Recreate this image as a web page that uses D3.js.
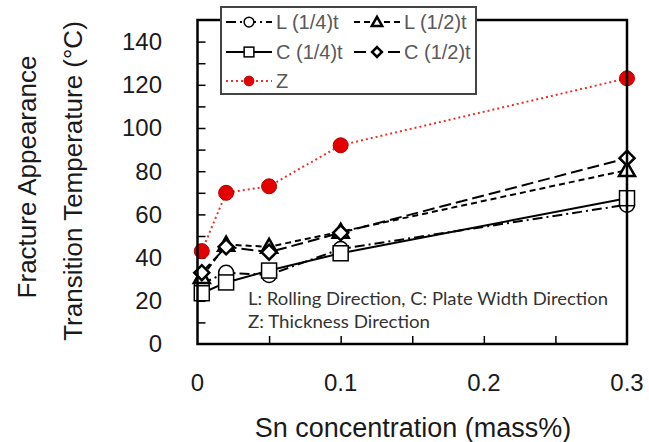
<!DOCTYPE html>
<html>
<head>
<meta charset="utf-8">
<script src="https://cdn.jsdelivr.net/npm/d3@7"></script>
<style>
  body { margin: 0; background: #fff; }
  svg { display: block; font-family: 'Liberation Sans', Arial, sans-serif; }
</style>
</head>
<body>
<svg id="chart" width="649" height="442"></svg>
<script>
// Sn concentration (mass%)
const snConc = [0.003, 0.02, 0.05, 0.1, 0.3];

// Fracture appearance transition temperature (°C)
const L14 = [28, 33, 32, 44, 64.5];
const L12 = [31, 46, 45, 52, 80.5];
const C14 = [23.5, 28.5, 34, 42, 67.5];
const C12 = [33, 45, 42.5, 51.5, 86];
const Z = [43, 70, 73, 92, 123];

const xTicks = [0, 0.1, 0.2, 0.3];
const yTicks = [0, 20, 40, 60, 80, 100, 120, 140];

const series = [
  { name: 'L (1/4)t', values: L14, marker: 'circle', dash: '10,4,2,4', color: '#000' },
  { name: 'L (1/2)t', values: L12, marker: 'triangle', dash: '6,4', color: '#000' },
  { name: 'C (1/4)t', values: C14, marker: 'square', dash: null, color: '#000' },
  { name: 'C (1/2)t', values: C12, marker: 'diamond', dash: '12,5', color: '#000' },
  { name: 'Z', values: Z, marker: 'dot', dash: '2,3', color: '#e8322a' }
];

const svg = d3.select('#chart');
const plotL = 197.5, plotR = 627, plotT = 20, plotB = 344;

const x = d3.scaleLinear().domain([0, 0.3]).range([plotL, plotR]);
const y = d3.scaleLinear().domain([0, 150]).range([plotB, plotT]);

// minor inside ticks
svg.append('g')
  .attr('transform', `translate(${plotL},0)`)
  .call(d3.axisRight(y).tickValues(d3.range(10, 150, 10)).tickSize(8).tickFormat(''))
  .call(g => g.select('.domain').remove())
  .selectAll('line').attr('stroke', '#000').attr('stroke-width', 1.5);

svg.append('g')
  .attr('transform', `translate(0,${plotB})`)
  .call(d3.axisTop(x).tickValues([0.05, 0.1, 0.15, 0.2, 0.25]).tickSize(8).tickFormat(''))
  .call(g => g.select('.domain').remove())
  .selectAll('line').attr('stroke', '#000').attr('stroke-width', 1.5);

// tick labels
svg.append('g').selectAll('text')
  .data(yTicks).join('text')
  .attr('x', 162).attr('y', d => y(d))
  .attr('dy', '0.35em')
  .attr('text-anchor', 'end')
  .attr('font-size', 24)
  .attr('fill', '#1a1a1a')
  .text(d => d);

svg.append('g').selectAll('text')
  .data(xTicks).join('text')
  .attr('x', d => x(d)).attr('y', 391)
  .attr('text-anchor', 'middle')
  .attr('font-size', 24)
  .attr('fill', '#1a1a1a')
  .text(d => d);

// axis titles
svg.append('text')
  .attr('x', 413).attr('y', 437)
  .attr('text-anchor', 'middle')
  .attr('font-size', 27)
  .attr('fill', '#1a1a1a')
  .text('Sn concentration (mass%)');

svg.append('text')
  .attr('transform', 'translate(36,177) rotate(-90)')
  .attr('text-anchor', 'middle')
  .attr('font-size', 26)
  .attr('fill', '#1a1a1a')
  .text('Fracture Appearance');

svg.append('text')
  .attr('transform', 'translate(82,181) rotate(-90)')
  .attr('text-anchor', 'middle')
  .attr('font-size', 26)
  .attr('fill', '#1a1a1a')
  .text('Transition Temperature (°C)');

// note
const note = svg.append('g')
  .attr('font-family', 'Lato, "Open Sans", sans-serif')
  .attr('font-size', 17)
  .attr('fill', '#333');
note.append('text').attr('x', 248).attr('y', 305)
  .attr('textLength', 360).attr('lengthAdjust', 'spacingAndGlyphs')
  .text('L: Rolling Direction, C: Plate Width Direction');
note.append('text').attr('x', 248).attr('y', 328)
  .attr('textLength', 182).attr('lengthAdjust', 'spacingAndGlyphs')
  .text('Z: Thickness Direction');

function drawMarker(g, type, cx, cy, k = 1) {
  const r = 7.5 * k;
  if (type === 'circle') {
    g.append('circle').attr('cx', cx).attr('cy', cy).attr('r', r)
      .attr('fill', '#fff').attr('stroke', '#000').attr('stroke-width', 1.5);
  } else if (type === 'square') {
    g.append('rect').attr('x', cx - r).attr('y', cy - r).attr('width', 2 * r).attr('height', 2 * r)
      .attr('fill', '#fff').attr('stroke', '#000').attr('stroke-width', 1.5);
  } else if (type === 'triangle') {
    g.append('path')
      .attr('d', `M${cx},${cy - 8 * k}L${cx + 8 * k},${cy + 6 * k}L${cx - 8 * k},${cy + 6 * k}Z`)
      .attr('fill', '#fff').attr('stroke', '#000').attr('stroke-width', 2.5);
  } else if (type === 'diamond') {
    g.append('path')
      .attr('d', `M${cx},${cy - r}L${cx + r},${cy}L${cx},${cy + r}L${cx - r},${cy}Z`)
      .attr('fill', '#fff').attr('stroke', '#000').attr('stroke-width', 2.5);
  } else if (type === 'dot') {
    g.append('circle').attr('cx', cx).attr('cy', cy).attr('r', r)
      .attr('fill', '#e50000').attr('stroke', '#b00000').attr('stroke-width', 1);
  }
}

const line = d3.line().x((d, i) => x(snConc[i])).y(d => y(d));

series.forEach(s => {
  const g = svg.append('g');
  g.append('path')
    .attr('d', line(s.values))
    .attr('fill', 'none')
    .attr('stroke', s.color)
    .attr('stroke-width', 2)
    .attr('stroke-dasharray', s.dash);
  s.values.forEach((v, i) => drawMarker(g, s.marker, x(snConc[i]), y(v)));
});

// frame
svg.append('rect')
  .attr('x', plotL).attr('y', plotT)
  .attr('width', plotR - plotL).attr('height', plotB - plotT)
  .attr('fill', 'none').attr('stroke', '#000').attr('stroke-width', 2.5);

// legend
const legendRows = [
  { s: series[0], lx: 226, ly: 22 },
  { s: series[1], lx: 354, ly: 22 },
  { s: series[2], lx: 226, ly: 52 },
  { s: series[3], lx: 354, ly: 52 },
  { s: series[4], lx: 226, ly: 81 }
];
const legend = svg.append('g');
legend.append('rect')
  .attr('x', 221).attr('y', 7).attr('width', 255).attr('height', 87)
  .attr('fill', '#fff').attr('stroke', '#444').attr('stroke-width', 2);

legendRows.forEach(r => {
  const g = legend.append('g');
  g.append('line')
    .attr('x1', r.lx).attr('x2', r.lx + 46)
    .attr('y1', r.ly).attr('y2', r.ly)
    .attr('stroke', r.s.color).attr('stroke-width', 2)
    .attr('stroke-dasharray', r.s.dash);
  drawMarker(g, r.s.marker, r.lx + 23, r.ly, 0.65);
  g.append('text')
    .attr('x', r.lx + 50).attr('y', r.ly).attr('dy', '0.35em')
    .attr('font-size', 20).attr('fill', '#595959')
    .text(r.s.name);
});
</script>
</body>
</html>
